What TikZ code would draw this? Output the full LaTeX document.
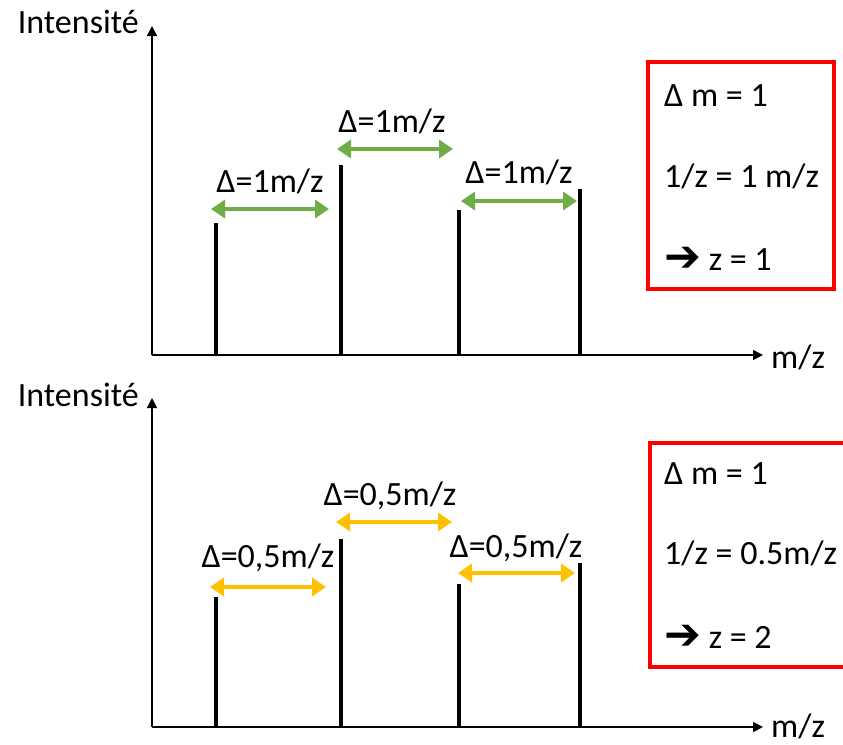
\documentclass[tikz,border=0pt]{standalone}
\usepackage{fontspec}
\setmainfont{Carlito}
\newfontfamily\symbfont{DejaVu Sans}
\usepackage{xcolor}
\usetikzlibrary{arrows.meta}

\definecolor{gapgreen}{HTML}{70AD47}
\definecolor{gapyellow}{HTML}{FFC000}

\newcommand{\thenarrow}{\raisebox{-1pt}{\symbfont\bfseries\fontsize{44}{44}\selectfont ➔}}

\begin{document}
\begin{tikzpicture}[
    x=1pt, y=-1pt,
    >=Stealth,
    lbl/.style={font=\fontsize{34}{40}\selectfont, inner sep=0pt},
    axis/.style={line width=1.5pt, -{Triangle[width=10pt,length=10pt]}},
    peak/.style={line width=4pt},
    gap/.style={line width=4.5pt, {Triangle[width=18pt,length=14pt]}-{Triangle[width=18pt,length=14pt]}},
    resbox/.style={draw=red, line width=4pt, inner sep=0pt}
]
\useasboundingbox (0,0) rectangle (843,744);

% upper spectrum, z = 1
\coordinate (o1) at (152,355);
\coordinate (ytop1) at (152,26);
\coordinate (xend1) at (763,355);
\draw[axis] (o1) -- (ytop1);
\draw[axis] (o1) -- (xend1);
\node[lbl, anchor=east] (int1) at (139,22) {Intensité};
\node[lbl, anchor=west] (mz1) at (771,357) {m/z};

\coordinate (p1a) at (216,355); \coordinate (p1a') at (216,223);
\coordinate (p1b) at (341,355); \coordinate (p1b') at (341,165);
\coordinate (p1c) at (459,355); \coordinate (p1c') at (459,210);
\coordinate (p1d) at (580,355); \coordinate (p1d') at (580,189);
\draw[peak] (p1a) -- (p1a');
\draw[peak] (p1b) -- (p1b');
\draw[peak] (p1c) -- (p1c');
\draw[peak] (p1d) -- (p1d');

\coordinate (g1l) at (211,209); \coordinate (g1r) at (329,209);
\coordinate (g2l) at (337,149); \coordinate (g2r) at (453,149);
\coordinate (g3l) at (461,201); \coordinate (g3r) at (577,201);
\draw[gap, draw=gapgreen, fill=gapgreen] (g1l) -- (g1r);
\draw[gap, draw=gapgreen, fill=gapgreen] (g2l) -- (g2r);
\draw[gap, draw=gapgreen, fill=gapgreen] (g3l) -- (g3r);
\node[lbl] (d1) at (270,181) {Δ=1m/z};
\node[lbl] (d2) at (392,121) {Δ=1m/z};
\node[lbl] (d3) at (519,172) {Δ=1m/z};

\node[resbox, minimum width=186pt, minimum height=227pt] (res1) at (741,175.5) {};
\node[lbl, anchor=west] (r1a) at (664,96) {Δ m = 1};
\node[lbl, anchor=west] (r1b) at (664,176) {1/z = 1 m/z};
\node[lbl, anchor=west] (r1c) at (664,259) {\thenarrow\ z = 1};

% lower spectrum, z = 2
\coordinate (o2) at (152,727);
\coordinate (ytop2) at (152,398);
\coordinate (xend2) at (763,727);
\draw[axis] (o2) -- (ytop2);
\draw[axis] (o2) -- (xend2);
\node[lbl, anchor=east] (int2) at (139,395) {Intensité};
\node[lbl, anchor=west] (mz2) at (771,726) {m/z};

\coordinate (p2a) at (216,727); \coordinate (p2a') at (216,597);
\coordinate (p2b) at (341,727); \coordinate (p2b') at (341,539);
\coordinate (p2c) at (459,727); \coordinate (p2c') at (459,584);
\coordinate (p2d) at (580,727); \coordinate (p2d') at (580,563);
\draw[peak] (p2a) -- (p2a');
\draw[peak] (p2b) -- (p2b');
\draw[peak] (p2c) -- (p2c');
\draw[peak] (p2d) -- (p2d');

\coordinate (h1l) at (210,587); \coordinate (h1r) at (326,587);
\coordinate (h2l) at (336,522); \coordinate (h2r) at (452,522);
\coordinate (h3l) at (458,573); \coordinate (h3r) at (575,573);
\draw[gap, draw=gapyellow, fill=gapyellow] (h1l) -- (h1r);
\draw[gap, draw=gapyellow, fill=gapyellow] (h2l) -- (h2r);
\draw[gap, draw=gapyellow, fill=gapyellow] (h3l) -- (h3r);
\node[lbl] (e1) at (268,558) {Δ=0,5m/z};
\node[lbl] (e2) at (390,496) {Δ=0,5m/z};
\node[lbl] (e3) at (516,548) {Δ=0,5m/z};

\node[resbox, minimum width=200pt, minimum height=224pt] (res2) at (750,555) {};
\node[lbl, anchor=west] (r2a) at (664,474) {Δ m = 1};
\node[lbl, anchor=west] (r2b) at (664,553) {1/z = 0.5m/z};
\node[lbl, anchor=west] (r2c) at (664,637) {\thenarrow\ z = 2};
\end{tikzpicture}
\end{document}
